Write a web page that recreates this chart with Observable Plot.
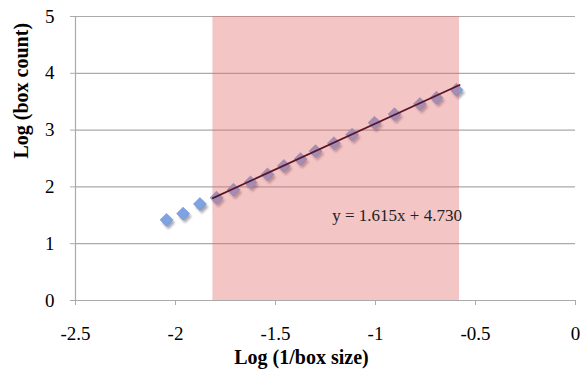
<!DOCTYPE html>
<html>
<head>
<meta charset="utf-8">
<script src="https://cdn.jsdelivr.net/npm/d3@7"></script>
<script src="https://cdn.jsdelivr.net/npm/@observablehq/plot@0.6"></script>
<style>
  html, body { margin: 0; padding: 0; background: #fff; }
  #chart svg { display: block; }
  #chart svg text { font-family: 'Liberation Serif', 'Times New Roman', serif !important; font-variant: normal !important; }
</style>
</head>
<body>
<div id="chart"></div>
<script>
// Data
const logInvBoxSize = [-2.045, -1.962, -1.878, -1.795, -1.71, -1.625, -1.54, -1.458, -1.375, -1.30, -1.208, -1.117, -1.005, -0.905, -0.778, -0.695, -0.595];
const logBoxCount   = [1.42, 1.53, 1.70, 1.81, 1.95, 2.08, 2.22, 2.37, 2.49, 2.63, 2.77, 2.92, 3.13, 3.28, 3.46, 3.57, 3.71];
const fitRange = [-1.813, -0.58];      // shaded linear region (x)
const fitSlope = 1.615;
const fitIntercept = 4.730;
const equationLabel = "y = 1.615x + 4.730";
const xTicks = [-2.5, -2, -1.5, -1, -0.5, 0];
const yTicks = [0, 1, 2, 3, 4, 5];
const xTitle = "Log (1/box size)";
const yTitle = "Log (box count)";

const points = logInvBoxSize.map((x, i) => ({x, y: logBoxCount[i]}));
const fitLine = fitRange.map(x => ({x, y: fitSlope * x + fitIntercept}));
const band = [{x1: fitRange[0], x2: fitRange[1]}];

const serif = "'Liberation Serif', 'Times New Roman', serif";
const grey = "#aaaaaa";

const chart = Plot.plot({
  width: 580,
  height: 371,
  marginLeft: 75,
  marginRight: 5,
  marginTop: 16,
  marginBottom: 71,
  style: {fontFamily: serif, background: "#fff", color: "#000"},
  x: {domain: [-2.5, 0]},
  y: {domain: [0, 5]},
  marks: [
    Plot.gridY(yTicks.filter(d => d > 0), {stroke: grey, strokeOpacity: 1, strokeWidth: 1.2}),
    Plot.ruleY([0], {stroke: grey, strokeWidth: 1.2}),
    Plot.ruleX([-2.5], {stroke: grey, strokeWidth: 1.2}),
    Plot.axisX({ticks: xTicks, tickSize: 5, tickPadding: 21, stroke: grey, fontSize: 19, fontFamily: serif, fill: "#000", tickFormat: d => String(d), label: null}),
    Plot.axisY({ticks: yTicks, tickSize: 5, tickPadding: 16, stroke: grey, fontSize: 19, fontFamily: serif, fill: "#000", tickFormat: d => String(d), label: null}),
    // shadow of the markers
    Plot.dot(points, {x: "x", y: "y", symbol: "diamond2", r: 5.8, fill: "#2a2a40", fillOpacity: 0.4, dx: 2, dy: 3, stroke: "none"}),
    Plot.dot(points, {x: "x", y: "y", symbol: "diamond2", r: 5.8, fill: "#7ea3e2", stroke: "#6a8fd0", strokeWidth: 0.6}),
    // translucent shaded region drawn over the markers
    Plot.rectX(band, {x1: "x1", x2: "x2", y1: 0, y2: 5, fill: "#e06969", fillOpacity: 0.39}),
    Plot.line(fitLine, {x: "x", y: "y", stroke: "#5a1628", strokeWidth: 1.8}),
    Plot.text([equationLabel], {x: -0.892, y: 1.5, fontSize: 17, fill: "#222", fontFamily: serif}),
    Plot.text([xTitle], {frameAnchor: "bottom", dx: -24, dy: 63, fontSize: 20, fontWeight: "bold", fill: "#000", fontFamily: serif}),
    Plot.text([yTitle], {frameAnchor: "left", dx: -54, rotate: -90, fontSize: 20, fontWeight: "bold", fill: "#000", fontFamily: serif})
  ]
});

// soft blur for the marker shadows
const svgNS = "http://www.w3.org/2000/svg";
const defs = document.createElementNS(svgNS, "defs");
const filter = document.createElementNS(svgNS, "filter");
filter.setAttribute("id", "shadowBlur");
filter.setAttribute("x", "-50%"); filter.setAttribute("y", "-50%");
filter.setAttribute("width", "200%"); filter.setAttribute("height", "200%");
const blur = document.createElementNS(svgNS, "feGaussianBlur");
blur.setAttribute("stdDeviation", "1.3");
filter.appendChild(blur);
defs.appendChild(filter);
chart.insertBefore(defs, chart.firstChild);
const dotGroups = chart.querySelectorAll('g[aria-label="dot"]');
if (dotGroups.length) dotGroups[0].setAttribute("filter", "url(#shadowBlur)");

document.getElementById("chart").appendChild(chart);
</script>
</body>
</html>
